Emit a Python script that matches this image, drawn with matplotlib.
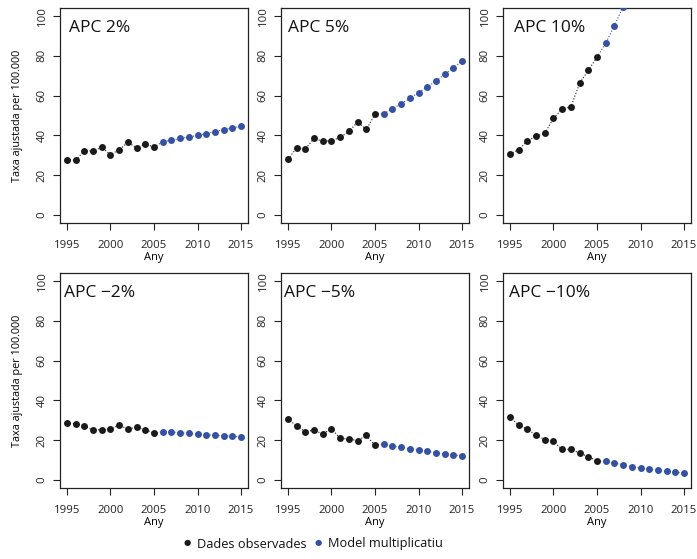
import numpy as np
import matplotlib.pyplot as plt

plt.rcParams['font.family'] = ['Open Sans', 'DejaVu Sans']

# dades llegides del gràfic
anys_obs = np.arange(1995, 2006)
anys_mod = np.arange(2006, 2016)

titols = ['APC 2%', 'APC 5%', 'APC 10%', 'APC \u22122%', 'APC \u22125%', 'APC \u221210%']

obs_2 = [27.6, 27.6, 32.3, 32.2, 34.0, 30.3, 32.8, 36.5, 33.8, 35.8, 34.0]
mod_2 = [36.9, 37.5, 38.5, 39.2, 40.0, 40.9, 41.9, 42.9, 43.7, 44.6]

obs_5 = [28.1, 33.7, 33.3, 38.5, 37.0, 37.4, 39.0, 42.0, 46.7, 43.0, 50.6]
mod_5 = [50.9, 53.4, 55.9, 58.6, 61.5, 64.3, 67.3, 70.7, 73.9, 77.4]

obs_10 = [30.7, 32.8, 37.2, 39.7, 41.0, 48.6, 53.3, 54.3, 66.2, 72.7, 79.2]
mod_10 = [86.4, 95.1, 104.6, 115.0, 126.5, 139.2, 153.1, 168.4, 185.2, 203.8]

obs_m2 = [28.5, 28.3, 27.3, 25.1, 25.3, 25.6, 27.5, 25.6, 26.6, 25.3, 23.5]
mod_m2 = [24.3, 24.1, 23.8, 23.5, 23.1, 22.8, 22.4, 22.3, 21.9, 21.7]

obs_m5 = [30.8, 27.0, 24.3, 25.1, 23.1, 25.8, 20.9, 20.6, 19.8, 22.4, 17.4]
mod_m5 = [17.9, 17.1, 16.4, 15.7, 15.1, 14.4, 13.7, 13.2, 12.7, 12.2]

obs_m10 = [31.7, 27.6, 25.5, 22.6, 20.3, 19.4, 15.4, 15.4, 13.6, 11.7, 9.7]
mod_m10 = [9.4, 8.5, 7.7, 6.7, 6.0, 5.5, 4.9, 4.4, 4.0, 3.5]

observats = [obs_2, obs_5, obs_10, obs_m2, obs_m5, obs_m10]
models = [mod_2, mod_5, mod_10, mod_m2, mod_m5, mod_m10]
pos_titol = [0.21, 0.20, 0.25, 0.21, 0.207, 0.25]

negre = '#1a1a1a'
blau = '#3551a4'

W, H = 697, 559
fig = plt.figure(figsize=(W / 100, H / 100), dpi=100)

lefts = [60, 281, 503]
tops = [8, 273]
amplada = 188
alcada = 215

for k in range(6):
    fila, col = divmod(k, 3)
    l = lefts[col]
    t = tops[fila]
    ax = fig.add_axes([l / W, 1 - (t + alcada) / H, amplada / W, alcada / H])
    obs = observats[k]
    mod = models[k]
    ax.plot(anys_obs, obs, ls=':', color=negre, lw=0.8, zorder=1)
    ax.plot(np.r_[anys_obs[-1], anys_mod], np.r_[obs[-1], mod], ls=':',
            color=blau, lw=0.8, zorder=1)
    ax.plot(anys_obs, obs, 'o', color=negre, ms=5, mec='none', zorder=3)
    ax.plot(anys_mod, mod, 'o', color=blau, ms=5, mec='none', zorder=3)
    ax.set_xlim(1994.2, 2015.8)
    ax.set_ylim(-4, 104)
    ax.set_xticks([1995, 2000, 2005, 2010, 2015])
    ax.set_yticks([0, 20, 40, 60, 80, 100])
    ax.tick_params(direction='out', length=5, width=0.8, labelsize=8.2,
                   colors='#222222')
    ax.tick_params(axis='x', pad=7)
    ax.tick_params(axis='y', pad=4)
    for lab in ax.get_yticklabels():
        lab.set_rotation(90)
        lab.set_va('center')
    for s in ax.spines.values():
        s.set_linewidth(0.9)
        s.set_color('#222222')
    ax.set_xlabel('Any', fontsize=8, labelpad=1)
    if col == 0:
        ax.set_ylabel('Taxa ajustada per 100.000', fontsize=7.8, labelpad=10)
    ax.text(pos_titol[k], 0.905, titols[k], transform=ax.transAxes,
            ha='center', va='center', fontsize=12.5, color='#111111')

# llegenda
fig.text(184 / W, 1 - 543 / H, '\u25cf', fontsize=6, color=negre,
         ha='left', va='center')
fig.text(197 / W, 1 - 544 / H, 'Dades observades', fontsize=9.2,
         ha='left', va='center', color='#111111')
fig.text(315 / W, 1 - 543 / H, '\u25cf', fontsize=6, color=blau,
         ha='left', va='center')
fig.text(328 / W, 1 - 544 / H, 'Model multiplicatiu', fontsize=9.2,
         ha='left', va='center', color='#111111')

plt.savefig('out.png', dpi=100)
